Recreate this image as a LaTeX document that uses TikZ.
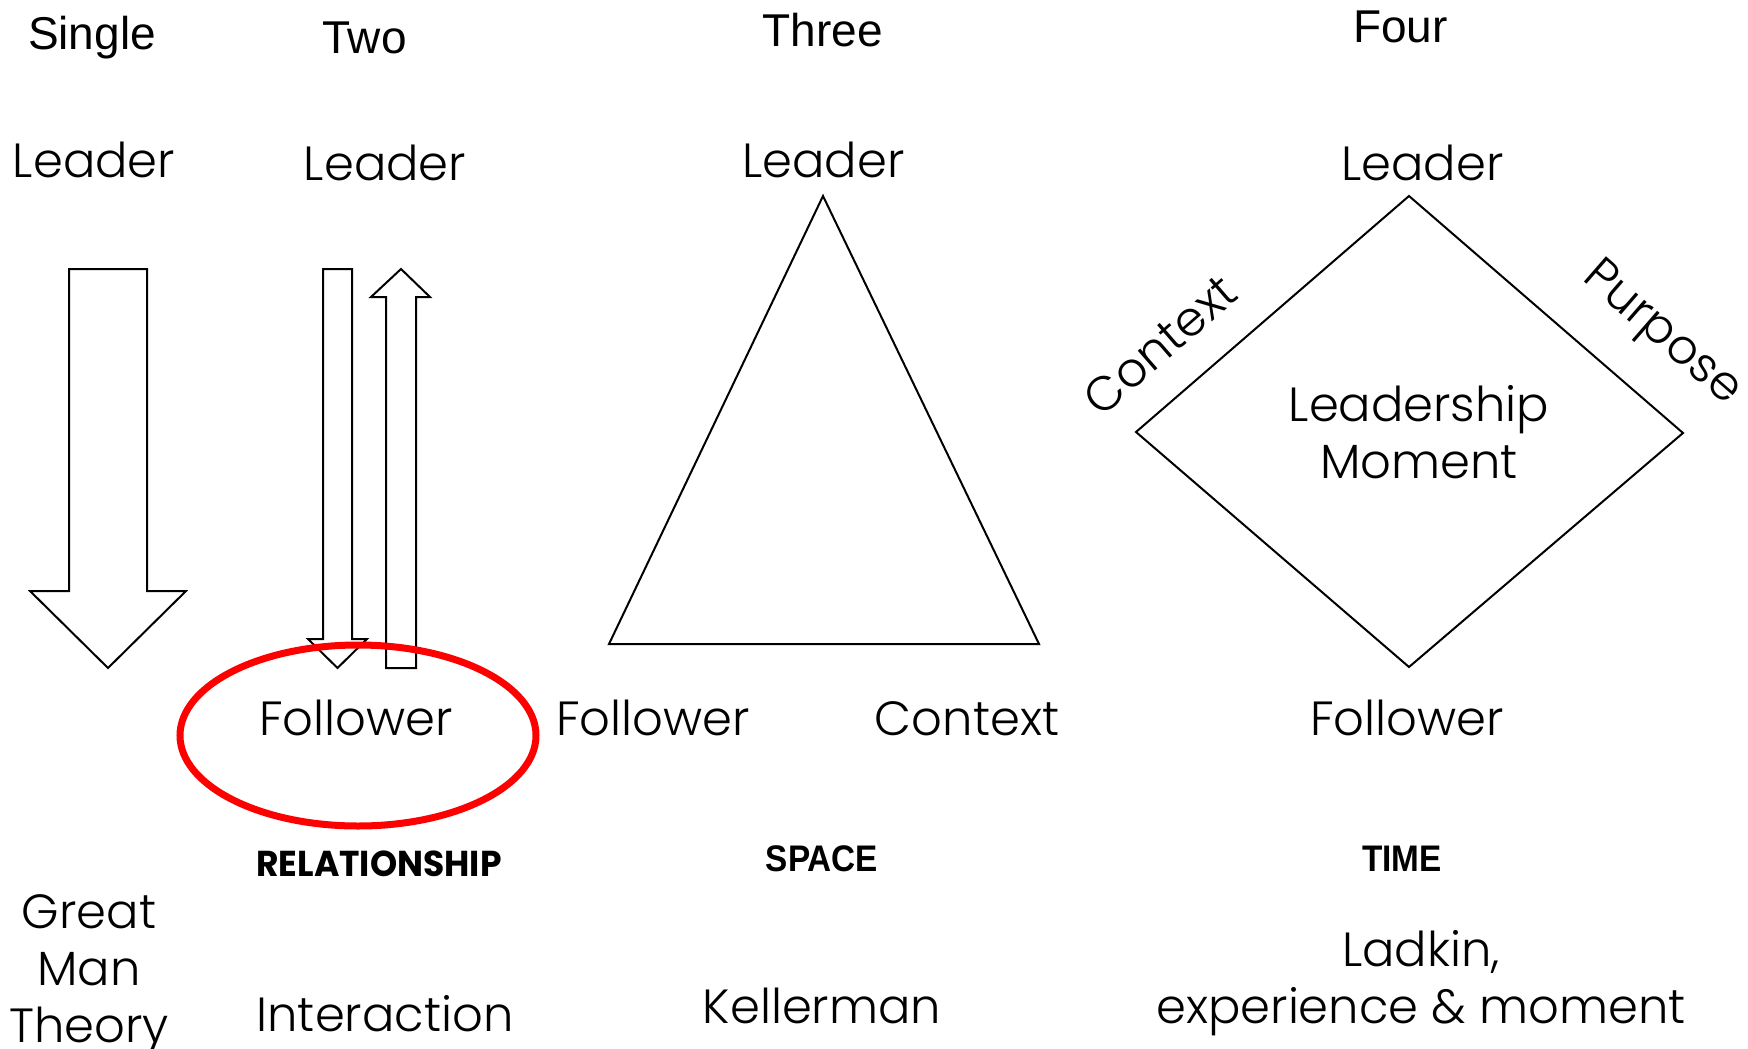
\documentclass[tikz,border=0pt]{standalone}
\usepackage{fontspec}
\usetikzlibrary{shapes.geometric}
\setmainfont{Liberation Sans}
\IfFontExistsTF{Poppins Light}{\newfontfamily\gothic{Poppins Light}}{\newfontfamily\gothic{Poppins}}
\newfontfamily\poppins{Poppins}
\begin{document}
\begin{tikzpicture}[x=1pt,y=-1pt]
\tikzset{
  lbl/.style={font=\gothic\fontsize{48}{57}\selectfont, inner sep=0pt, anchor=base, align=center},
  head/.style={font=\fontsize{46}{55}\selectfont, inner sep=0pt, anchor=base},
  tagbold/.style={font=\poppins\bfseries\fontsize{36}{40}\selectfont, inner sep=0pt, anchor=base, xscale=0.96},
  tagcond/.style={font=\bfseries\fontsize{37}{40}\selectfont, inner sep=0pt, anchor=base, xscale=0.9},
  outline/.style={draw=black, line width=2pt, line join=miter, fill=white},
  ring/.style={draw=red, line width=7pt, ellipse, inner sep=0pt}
}
\fill[white] (0,0) rectangle (1748,1049);
\useasboundingbox (0,0) rectangle (1748,1049);

% column headings
\node[head] (hSingle) at (92,50) {Single};
\node[head] (hTwo)    at (364.5,54) {Two};
\node[head] (hThree)  at (822.5,47) {Three};
\node[head] (hFour)   at (1400.5,43) {Four};

% leaders
\node[lbl] (lead1) at (94,177) {Leader};
\node[lbl] (lead2) at (385,180) {Leader};
\node[lbl] (lead3) at (823.5,177) {Leader};
\node[lbl] (lead4) at (1422.5,180) {Leader};

% single: one broad downward arrow
\draw[outline] (69,269) -- (147,269) -- (147,591) -- (186,591) -- (108,668)
  -- (30,591) -- (69,591) -- cycle;

% two: narrow arrows down and up
\draw[outline] (323,269) -- (352,269) -- (352,639) -- (367,639) -- (337.5,668)
  -- (308,639) -- (323,639) -- cycle;
\draw[outline] (386,668) -- (416,668) -- (416,297) -- (430,297) -- (401,269)
  -- (371,297) -- (386,297) -- cycle;

% followers and context
\node[lbl] (fol2) at (356,735) {Follower};
\node[lbl] (fol3) at (653,735) {Follower};
\node[lbl] (ctx3) at (967,735) {Context};
\node[lbl] (fol4) at (1407,735) {Follower};

% highlight ring round the follower
\node[ring, minimum width=356pt, minimum height=181pt] (hl) at (358,735.5) {};

% three: triangle
\coordinate (tA) at (823,196);
\coordinate (tL) at (609,644);
\coordinate (tR) at (1039,644);
\draw[outline, fill=none] (tA) -- (tR) -- (tL) -- cycle;

% four: diamond
\coordinate (dT) at (1409,196);
\coordinate (dR) at (1683,433);
\coordinate (dB) at (1409,667);
\coordinate (dL) at (1136,432);
\draw[outline, fill=none] (dT) -- (dR) -- (dB) -- (dL) -- cycle;
\node[lbl, anchor=center, rotate=41] (ctx4) at (1160,345) {Context};
\node[lbl, anchor=center, rotate=-41] (pur4) at (1661,335) {Purpose};
\node[lbl] (moment) at (1419,478) {Leadership\\Moment};

% dimension tags
\node[tagbold] (rel) at (379,876) {RELATIONSHIP};
\node[tagcond] (space) at (822,871) {SPACE};
\node[tagcond] (time) at (1402,871) {TIME};

% theories
\node[lbl] (gmt) at (89,1042) {Great\\Man\\Theory};
\node[lbl] (inter) at (385,1031) {Interaction};
\node[lbl] (kell) at (822,1023) {Kellerman};
\node[lbl] (ladk) at (1421,1023) {Ladkin,\\experience \& moment};
\end{tikzpicture}
\end{document}
